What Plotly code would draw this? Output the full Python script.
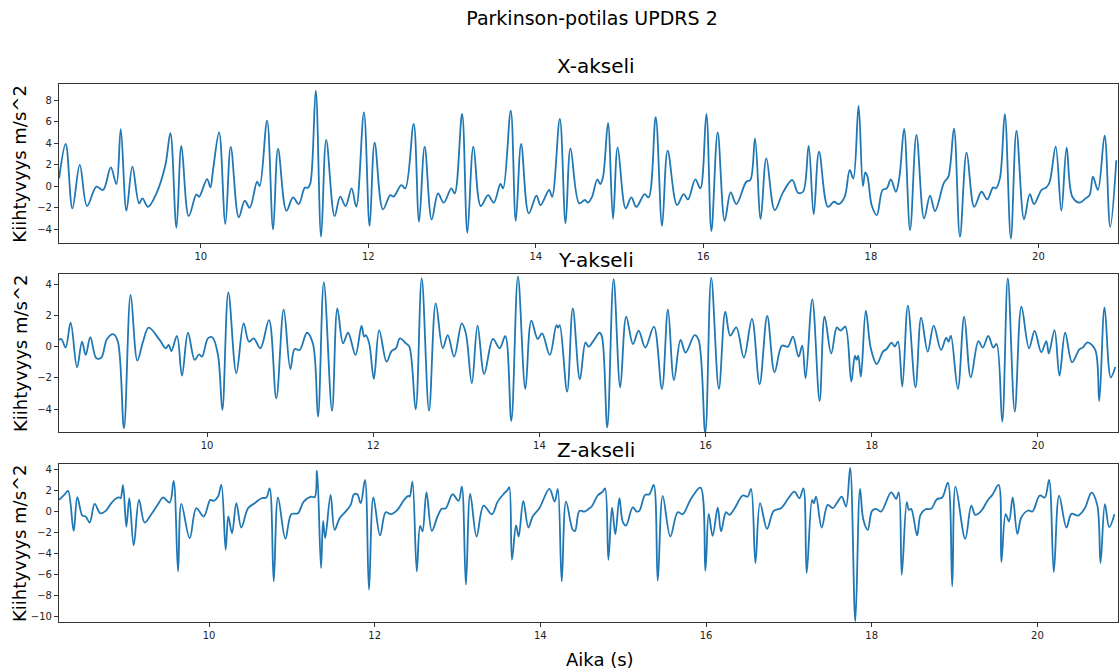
import plotly.graph_objects as go

# ---------------- data ----------------
x_t = [8.309, 8.388, 8.468, 8.556, 8.643, 8.755, 8.834, 8.926, 8.993, 9.045, 9.113, 9.184, 9.264, 9.304, 9.371,
       9.471, 9.578, 9.638, 9.710, 9.769, 9.857, 9.948, 9.980, 10.076, 10.115, 10.147, 10.219, 10.294, 10.358,
       10.454, 10.525, 10.585, 10.673, 10.704, 10.792, 10.864, 10.923, 11.023, 11.102, 11.170, 11.242, 11.280,
       11.309, 11.373, 11.437, 11.498, 11.598, 11.665, 11.729, 11.801, 11.857, 11.948, 12.016, 12.076, 12.175,
       12.263, 12.303, 12.394, 12.442, 12.542, 12.606, 12.673, 12.757, 12.833, 12.900, 12.992, 13.032, 13.120,
       13.183, 13.255, 13.343, 13.430, 13.498, 13.578, 13.610, 13.701, 13.761, 13.825, 13.916, 14.008, 14.056,
       14.159, 14.195, 14.287, 14.355, 14.414, 14.518, 14.586, 14.623, 14.671, 14.735, 14.770, 14.803, 14.862,
       14.922, 14.977, 15.073, 15.140, 15.200, 15.300, 15.347, 15.431, 15.507, 15.574, 15.686, 15.765, 15.817,
       15.904, 15.964, 16.036, 16.096, 16.171, 16.255, 16.326, 16.394, 16.513, 16.561, 16.617, 16.684, 16.752,
       16.852, 16.951, 17.062, 17.130, 17.190, 17.257, 17.317, 17.381, 17.488, 17.560, 17.616, 17.687, 17.747,
       17.790, 17.853, 17.905, 17.933, 17.960, 18.012, 18.071, 18.139, 18.190, 18.238, 18.298, 18.341, 18.397,
       18.468, 18.544, 18.635, 18.706, 18.766, 18.873, 18.925, 18.992, 19.063, 19.143, 19.234, 19.321, 19.389,
       19.460, 19.492, 19.540, 19.599, 19.671, 19.738, 19.829, 19.897, 19.948, 20.036, 20.095, 20.135, 20.206,
       20.274, 20.337, 20.405, 20.492, 20.563, 20.611, 20.651, 20.710, 20.790, 20.857, 20.930]
x_acc = [0.71, 3.91, -2.08, 1.96, -1.86, -0.06, -0.37, 1.74, 0.19, 5.28, -2.30, 1.80, -1.61, -1.15, -1.93,
         -0.68, 1.96, 4.91, -3.88, 3.73, -2.80, -0.78, -1.00, 0.65, -0.12, 1.50, 5.00, -3.53, 3.65,
         -2.92, -1.37, -2.02, 0.40, 0.00, 6.09, -4.04, 3.45, -2.30, -1.06, -1.68, -0.15, -0.15,
         0.25, 8.88, -4.72, 4.29, -2.80, -0.99, -1.86, -0.22, -1.93, 6.86, -3.70, 4.04, -2.17,
         -0.84, -0.99, 0.09, -0.22, 5.78, -3.32, 3.66, -3.11, -0.68, -1.55, -0.22, -0.68, 6.71,
         -4.35, 3.66, -1.86, -0.84, -1.55, 0.19, -0.22, 7.02, -3.23, 3.91, -2.55, -0.90, -1.77,
         -0.37, -1.00, 6.24, -3.48, 3.51, -1.61, -1.30, -1.55, -1.00, 0.62, 0.19, 0.87, 5.84,
         -3.07, 3.60, -2.08, -1.06, -1.93, -0.75, -1.06, 6.40, -3.70, 3.29, -1.77, -0.75, -1.24,
         0.62, -0.22, 6.71, -4.19, 5.00, -3.23, -0.59, -1.68, 0.40, 0.56, 4.44, -3.07, 2.58,
         -2.24, -0.59, 0.56, -0.62, -0.53, 3.73, -2.64, 3.20, -1.93, -1.46, -1.68, -1.00, 1.49,
         0.70, 7.48, 0.00, 1.27, 0.87, -1.86, -2.70, -0.37, -0.22, 0.62, -0.53, 0.87, 5.31,
         -4.10, 4.75, -3.01, -0.90, -2.33, 0.31, 0.87, 5.34, -4.72, 3.10, -1.93, -0.53, -1.24,
         -0.12, -0.22, 0.71, 6.68, -4.88, 5.12, -3.10, -0.75, -1.68, -0.37, -0.12, 0.40, 3.66,
         -2.30, 3.57, -1.00, -1.55, -1.15, -0.84, 0.87, -0.37, 4.69, -3.79, 2.40]

y_t = [8.219, 8.247, 8.299, 8.359, 8.436, 8.496, 8.540, 8.596, 8.668, 8.728, 8.797, 8.877, 8.929, 9.001, 9.081,
       9.162, 9.230, 9.298, 9.430, 9.503, 9.539, 9.571, 9.639, 9.699, 9.771, 9.852, 9.904, 9.940, 10.012, 10.064,
       10.132, 10.185, 10.257, 10.353, 10.441, 10.505, 10.562, 10.642, 10.746, 10.834, 10.923, 11.003, 11.055,
       11.115, 11.203, 11.276, 11.336, 11.406, 11.505, 11.569, 11.638, 11.698, 11.787, 11.859, 11.891, 11.911,
       11.952, 12.008, 12.072, 12.161, 12.221, 12.274, 12.322, 12.394, 12.435, 12.511, 12.584, 12.672, 12.753,
       12.837, 12.897, 12.974, 13.066, 13.115, 13.187, 13.256, 13.336, 13.441, 13.521, 13.590, 13.662, 13.742,
       13.831, 13.903, 13.980, 14.032, 14.125, 14.205, 14.225, 14.245, 14.334, 14.402, 14.487, 14.555, 14.592,
       14.644, 14.724, 14.753, 14.817, 14.893, 14.973, 15.045, 15.126, 15.194, 15.274, 15.378, 15.475, 15.547,
       15.619, 15.699, 15.759, 15.868, 15.916, 15.996, 16.068, 16.160, 16.237, 16.297, 16.369, 16.461, 16.558,
       16.650, 16.742, 16.830, 16.919, 16.991, 17.051, 17.119, 17.163, 17.203, 17.284, 17.372, 17.432, 17.512,
       17.580, 17.625, 17.681, 17.753, 17.797, 17.817, 17.837, 17.869, 17.928, 17.988, 18.060, 18.135, 18.179,
       18.239, 18.275, 18.315, 18.367, 18.434, 18.526, 18.594, 18.673, 18.745, 18.833, 18.896, 18.924, 18.952,
       19.036, 19.112, 19.191, 19.283, 19.335, 19.402, 19.462, 19.502, 19.570, 19.637, 19.721, 19.801, 19.892,
       19.960, 20.040, 20.100, 20.131, 20.199, 20.259, 20.327, 20.410, 20.498, 20.538, 20.598, 20.689, 20.737,
       20.801, 20.876, 20.930]
y_acc = [0.43, 0.49, -0.06, 1.53, -1.32, 0.32, -0.53, 0.60, -0.74, -0.70, 0.49, 0.79, 0.28, -5.21, 3.30,
         -0.89, 0.32, 1.21, 0.43, -0.10, 0.11, -0.28, 0.68, -1.85, 0.89, -0.85, -0.49, -0.64, 0.53, 0.60,
         -0.53, -4.04, 3.47, -1.70, 1.49, 0.32, 0.53, -0.10, 1.70, -3.30, 2.38, -1.43, -0.15,
         -0.21, 0.89, 0.17, -4.47, 4.10, -4.09, 2.45, 0.21, 0.89, -0.53, 1.32, 0.64, 0.74,
         0.21, -2.06, 1.06, -0.96, -0.28, -0.10, 0.53, 0.21, 0.00, -4.00, 4.36, -4.09, 2.77,
         -0.10, 0.74, -0.64, 1.49, 0.85, -2.34, 1.34, -1.74, 0.49, -0.10, 0.68, -4.74, 4.47,
         -2.70, 1.66, 0.49, 0.85, -0.53, 1.38, 1.21, 1.38, -2.87, 2.45, -2.09, 0.28, 0.00,
         0.32, 0.89, 0.64, -5.15, 4.32, -2.60, 1.91, 0.17, 1.02, -0.06, 1.28, -2.70, 2.38,
         -2.13, 0.43, -0.38, 0.74, 0.43, -5.53, 4.40, -2.70, 2.23, 0.70, 1.23, -0.70, 1.77,
         -2.40, 1.96, -1.64, 0.06, 0.00, 0.64, -0.64, 0.06, -2.02, 3.02, -3.47, 1.91, -0.43,
         1.23, 1.02, 1.28, -2.23, -0.57, -0.85, -0.57, -1.91, 2.30, -0.10, -1.11, -0.32, -0.15,
         0.26, 0.00, 0.32, -2.55, 2.62, -2.60, 1.85, -0.32, 1.34, -0.21, 0.57, 0.32, 0.70,
         -2.70, 1.91, -1.96, 0.36, -0.06, 0.68, -0.06, 0.17, -4.79, 4.36, -4.15, 2.55, -0.10,
         1.00, -0.36, 0.36, -0.43, 1.06, -1.85, 0.89, -1.00, -0.17, -0.06, 0.28, -0.21, -3.47,
         2.51, -1.96, -1.30]

z_t = [8.189, 8.258, 8.298, 8.366, 8.410, 8.471, 8.511, 8.559, 8.620, 8.688, 8.753, 8.821, 8.881, 8.922, 8.934,
       8.962, 9.002, 9.038, 9.091, 9.155, 9.223, 9.304, 9.384, 9.445, 9.525, 9.573, 9.626, 9.666, 9.767, 9.847,
       9.936, 10.016, 10.056, 10.109, 10.149, 10.201, 10.233, 10.278, 10.330, 10.390, 10.471, 10.551, 10.632,
       10.692, 10.732, 10.781, 10.833, 10.922, 10.994, 11.074, 11.143, 11.235, 11.276, 11.304, 11.352, 11.377,
       11.402, 11.468, 11.516, 11.577, 11.649, 11.710, 11.750, 11.790, 11.831, 11.883, 11.931, 11.984, 12.065,
       12.133, 12.194, 12.274, 12.355, 12.407, 12.423, 12.456, 12.508, 12.548, 12.577, 12.625, 12.690, 12.758,
       12.810, 12.859, 12.940, 13.012, 13.052, 13.101, 13.153, 13.230, 13.315, 13.415, 13.484, 13.565, 13.605,
       13.625, 13.657, 13.706, 13.738, 13.794, 13.855, 13.907, 13.988, 14.109, 14.173, 14.210, 14.258, 14.310,
       14.391, 14.419, 14.472, 14.532, 14.585, 14.620, 14.692, 14.753, 14.781, 14.821, 14.865, 14.905, 14.954,
       14.994, 15.034, 15.115, 15.163, 15.195, 15.264, 15.316, 15.368, 15.417, 15.477, 15.569, 15.658, 15.718,
       15.811, 15.932, 15.992, 16.032, 16.080, 16.141, 16.181, 16.241, 16.282, 16.342, 16.443, 16.503, 16.543,
       16.596, 16.652, 16.736, 16.817, 16.905, 16.994, 17.066, 17.127, 17.175, 17.215, 17.280, 17.300, 17.328,
       17.396, 17.469, 17.529, 17.590, 17.638, 17.690, 17.740, 17.802, 17.859, 17.899, 17.952, 18.004, 18.052,
       18.113, 18.234, 18.294, 18.327, 18.363, 18.423, 18.448, 18.476, 18.548, 18.589, 18.649, 18.718, 18.786,
       18.851, 18.919, 18.972, 19.012, 19.129, 19.202, 19.250, 19.323, 19.403, 19.456, 19.532, 19.565, 19.617,
       19.657, 19.702, 19.758, 19.806, 19.887, 19.940, 20.028, 20.089, 20.141, 20.198, 20.262, 20.351, 20.411,
       20.492, 20.573, 20.653, 20.722, 20.762, 20.815, 20.867, 20.930]
z_acc = [1.14, 1.68, 2.00, -1.81, 1.40, -0.35, -0.44, -1.02, 0.76, -0.13, 0.10, 0.83, 1.30, 1.37, 1.30,
         2.54, -1.40, 1.30, -3.20, 1.14, -1.02, -0.22, 0.73, 1.37, 0.89, 2.95, -5.68, 0.76, -2.51, 0.35,
         -0.44, 1.14, 1.05, 1.46, 2.57, -3.62, -0.44, -2.03, 0.83, -1.49, 0.35, 0.83, 1.30,
         1.37, 2.25, -6.63, 1.37, -2.57, -0.22, -0.13, 0.98, 1.46, 1.40, 3.94, -5.37, -0.86,
         -2.51, 1.62, -1.71, -0.60, 0.03, 0.67, 1.68, 1.68, 0.83, 3.05, -7.43, 1.37, -2.25,
         -0.03, -0.22, 0.19, 1.14, 1.52, 1.46, 2.89, -5.68, -1.33, -1.87, 1.87, -1.81, -0.44,
         0.29, 0.35, 1.68, 1.05, 2.41, -6.95, 1.71, -2.35, 0.60, -0.22, 0.98, 1.78, 2.10,
         2.35, -4.57, -1.30, -2.35, 1.05, -1.49, -0.44, 0.35, 2.19, 0.98, 2.19, -6.63, 0.98,
         -1.71, -1.81, 0.10, 0.03, 0.29, 0.51, 1.56, 1.94, 2.25, -4.57, 0.41, -2.13, 1.30,
         -0.92, -1.30, 0.44, 0.03, 0.10, 1.62, 1.68, 2.57, -6.57, 1.52, -2.35, -0.03, -0.22,
         1.14, 2.32, -5.62, -0.19, -2.29, 0.41, -1.87, -0.03, -0.29, 0.29, 1.56, 1.46, 2.19,
         -4.89, 0.83, -1.62, 0.10, 0.35, 1.30, 1.94, 1.30, 2.25, -5.84, 1.14, 0.83, 1.46,
         -1.49, 0.67, 0.35, 0.98, 1.46, 0.51, 4.20, -10.44, 2.19, -0.76, -1.71, 0.10, 0.29,
         0.03, 1.87, 1.24, 1.87, -6.00, 0.92, 0.19, 0.29, -2.25, -0.29, 0.25, 0.29, 1.20,
         1.37, 2.79, -7.11, 2.41, -2.57, 0.60, -0.29, 0.10, 1.14, 1.62, 2.57, -4.79, -0.22,
         -0.92, 1.37, -2.10, -0.54, 0.13, 0.03, 1.56, 1.37, 3.05, -5.75, 1.56, -1.49, -0.19,
         -0.35, 0.35, 1.84, 0.67, -4.89, 0.73, -1.46, -0.22]

x_ticks = [10, 12, 14, 16, 18, 20]
title_text = "Parkinson-potilas UPDRS 2"
panel_titles = ["X-akseli", "Y-akseli", "Z-akseli"]
y_label = "Kiihtyvyys m/s^2"
x_label = "Aika (s)"

# ---------------- figure ----------------
FONT = "DejaVu Sans"
LINE = dict(color="#1f77b4", width=1.8, shape="spline", smoothing=1.0)

fig = go.Figure()
fig.add_trace(go.Scatter(x=x_t, y=x_acc, mode="lines", line=LINE, xaxis="x", yaxis="y", showlegend=False))
fig.add_trace(go.Scatter(x=y_t, y=y_acc, mode="lines", line=LINE, xaxis="x2", yaxis="y2", showlegend=False))
fig.add_trace(go.Scatter(x=z_t, y=z_acc, mode="lines", line=LINE, xaxis="x3", yaxis="y3", showlegend=False))

axis_common = dict(showline=True, mirror=True, linecolor="#333333", linewidth=1.2, ticks="outside",
                   ticklen=4, tickwidth=1, tickcolor="#333333", showgrid=False, zeroline=False,
                   tickfont=dict(family=FONT, size=10, color="#222222"))

fig.update_layout(
    width=1120, height=672,
    margin=dict(l=59, r=2, t=84, b=50),
    paper_bgcolor="white", plot_bgcolor="white",
    font=dict(family=FONT, color="black"),
    title=dict(text=title_text, x=0.5286, xref="container", xanchor="center",
               y=1 - 18 / 672, yref="container", yanchor="middle",
               font=dict(family=FONT, size=19, color="black")),
    xaxis=dict(domain=[0, 1], anchor="y", range=[8.308, 20.95], tickvals=x_ticks, **axis_common),
    yaxis=dict(domain=[0.705, 1.0], anchor="x", range=[-5.27, 9.49], dtick=2, tick0=0, **axis_common),
    xaxis2=dict(domain=[0, 1], anchor="y2", range=[8.219, 20.963], tickvals=x_ticks, **axis_common),
    yaxis2=dict(domain=[0.3526, 0.6468], anchor="x2", range=[-5.47, 4.64], dtick=2, tick0=0, **axis_common),
    xaxis3=dict(domain=[0, 1], anchor="y3", range=[8.189, 20.973], tickvals=x_ticks, **axis_common),
    yaxis3=dict(domain=[0.0, 0.2937], anchor="x3", range=[-10.51, 4.57], dtick=2, tick0=0, **axis_common),
)

annots = []
for txt, yp in zip(panel_titles, [1.0335, 0.6729, 0.3197]):
    annots.append(dict(text=txt, x=0.507, y=yp, xref="paper", yref="paper", xanchor="center",
                       yanchor="middle", showarrow=False, font=dict(family=FONT, size=20, color="black")))
for yp in [0.852, 0.5, 0.147]:
    annots.append(dict(text=y_label, x=-0.0368, y=yp, xref="paper", yref="paper", xanchor="center",
                       yanchor="middle", textangle=-90, showarrow=False,
                       font=dict(family=FONT, size=18, color="black")))
annots.append(dict(text=x_label, x=0.511, y=-0.0706, xref="paper", yref="paper", xanchor="center",
                   yanchor="middle", showarrow=False, font=dict(family=FONT, size=18, color="black")))
fig.update_layout(annotations=annots)

fig.write_html("out.html", config={"displayModeBar": False},
               post_script="document.body.style.margin='0';")
